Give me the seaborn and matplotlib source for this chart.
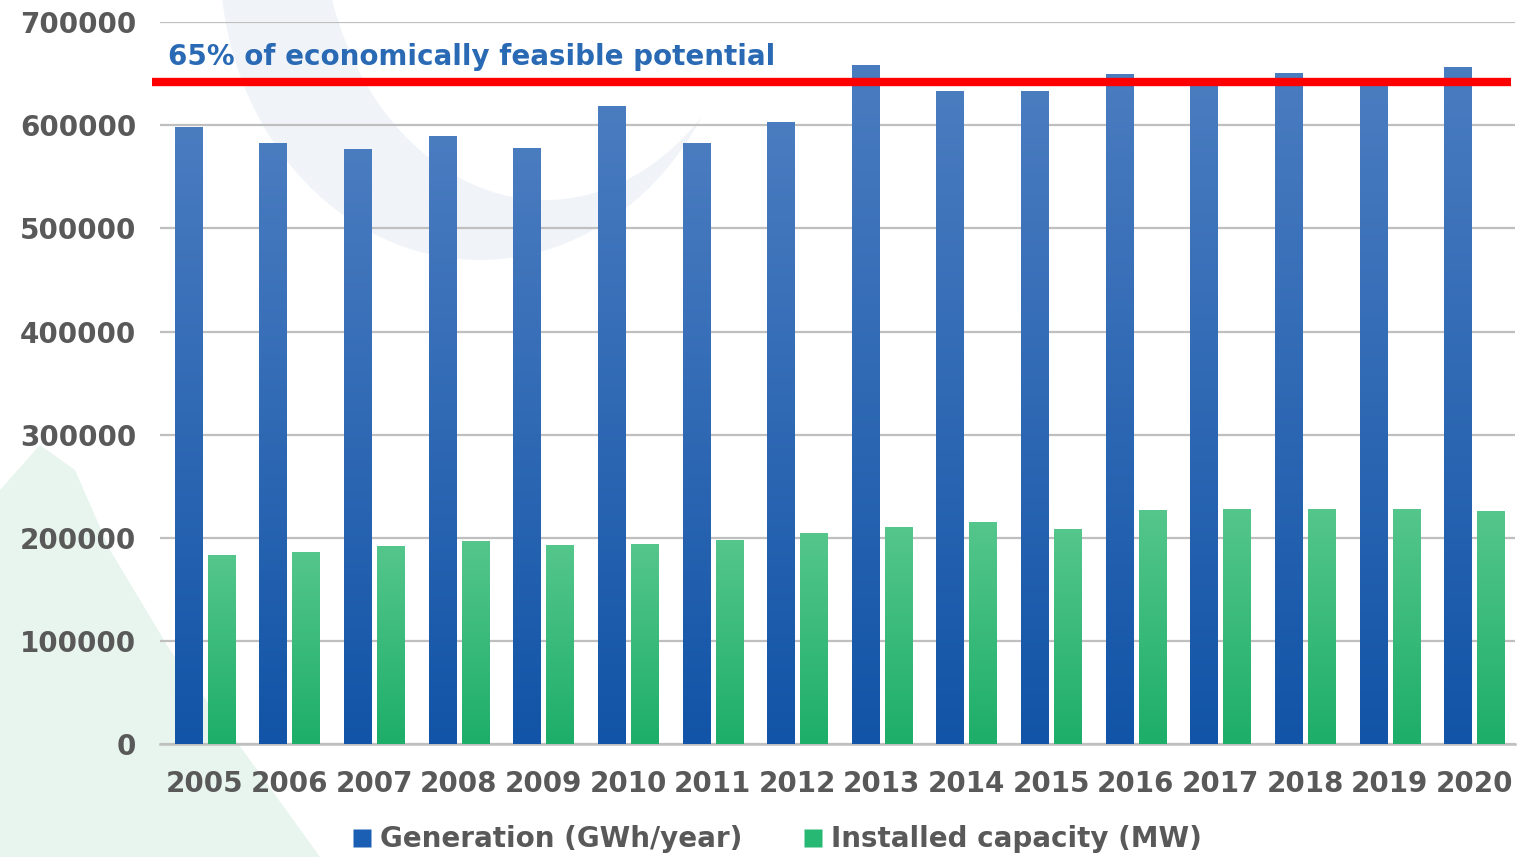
import numpy as np
import pandas as pd
import seaborn as sns
import matplotlib.pyplot as plt
from matplotlib.lines import Line2D
from matplotlib.patches import Ellipse, Polygon
from matplotlib.colors import LinearSegmentedColormap

# values
years = ['2005', '2006', '2007', '2008', '2009', '2010', '2011', '2012',
         '2013', '2014', '2015', '2016', '2017', '2018', '2019', '2020']
generation = [598000, 583000, 577000, 590000, 578000, 619000, 583000, 603000,
              659000, 633000, 633000, 650000, 643000, 651000, 638000, 657000]
capacity = [183000, 186000, 192000, 197000, 193000, 194000, 198000, 205000,
            210000, 215000, 208000, 227000, 228000, 228000, 228000, 226000]
series_names = ['Generation (GWh/year)', 'Installed capacity (MW)']
potential = 642000
potential_label = '65% of economically feasible potential'

df = pd.DataFrame({
    'Year': years * 2,
    'Value': generation + capacity,
    'Series': [series_names[0]] * len(years) + [series_names[1]] * len(years),
})

sns.set_style('white')
plt.rcParams['font.family'] = ['DejaVu Sans']

fig = plt.figure(figsize=(15.24, 8.57), dpi=100)
fig.patch.set_facecolor('white')

# faint decorative background shapes (pixel coords, y downwards)
bg = fig.add_axes([0, 0, 1, 1], zorder=-10)
bg.set_xlim(0, 1524)
bg.set_ylim(857, 0)
bg.axis('off')
bg.add_patch(Ellipse((480, -40), 520, 600, facecolor='#f0f4f8', edgecolor='none'))
bg.add_patch(Ellipse((545, -95), 450, 590, facecolor='white', edgecolor='none'))
bg.add_patch(Polygon([(0, 490), (40, 445), (75, 470), (110, 550), (170, 650),
                      (250, 760), (320, 857), (0, 857)],
                     facecolor='#e8f5ef', edgecolor='none'))

ax = fig.add_axes([0.105, 0.132, 0.889, 0.842], zorder=1)
ax.set_facecolor('none')

blue = '#1a5fb4'
green = '#27b873'
sns.barplot(data=df, x='Year', y='Value', hue='Series', palette=[blue, green],
            width=0.78, gap=0.18, linewidth=0, ax=ax, legend=False, zorder=3)

# vertical gradients like the original bars
grads = [LinearSegmentedColormap.from_list('b', ['#1254a7', '#4a7cc0']),
         LinearSegmentedColormap.from_list('g', ['#1dae69', '#55c68c'])]
grad = np.linspace(0, 1, 256).reshape(-1, 1)
for cont, cmap in zip(ax.containers, grads):
    for bar in cont:
        x, w, h = bar.get_x(), bar.get_width(), bar.get_height()
        im = ax.imshow(grad, cmap=cmap, origin='lower', aspect='auto',
                       extent=[x, x + w, 0, h], zorder=3.5)
        im.set_clip_path(bar)
ax.set_xlim(-0.53, 15.48)
ax.set_ylim(0, 700000)

ax.set_yticks(np.arange(0, 700001, 100000))
ax.set_yticklabels([str(v) for v in range(0, 700001, 100000)])
ax.yaxis.grid(True, color='#bfbfbf', linewidth=1.6, zorder=0)
ax.set_axisbelow(True)
for s in ['top', 'right', 'left']:
    ax.spines[s].set_visible(False)
ax.spines['bottom'].set_color('#bfbfbf')
ax.spines['bottom'].set_linewidth(1.8)
ax.tick_params(axis='both', length=0, labelsize=20, labelcolor='#595959')
for lab in ax.get_xticklabels() + ax.get_yticklabels():
    lab.set_fontweight('bold')
ax.tick_params(axis='y', pad=17)
ax.tick_params(axis='x', pad=19)
ax.set_xlabel('')
ax.set_ylabel('')

# potential line
ax.plot([-0.62, 15.43], [potential, potential], color='#ff0000', linewidth=6,
        solid_capstyle='butt', clip_on=False, zorder=4)
ax.text(-0.44, 666000, potential_label, color='#2a6ab4', fontsize=20,
        fontweight='bold', va='center', ha='left', zorder=5)

handles = [Line2D([], [], marker='s', linestyle='none', markersize=13,
                  markerfacecolor=c, markeredgecolor='none') for c in [blue, green]]
leg = fig.legend(handles, series_names, loc='lower center', ncol=2, frameon=False,
                 bbox_to_anchor=(0.51, -0.025), handlelength=0.7, handletextpad=0.3,
                 columnspacing=2.2, prop={'size': 20, 'weight': 'bold'})
for t in leg.get_texts():
    t.set_color('#595959')

fig.savefig('out.png', dpi=100)
